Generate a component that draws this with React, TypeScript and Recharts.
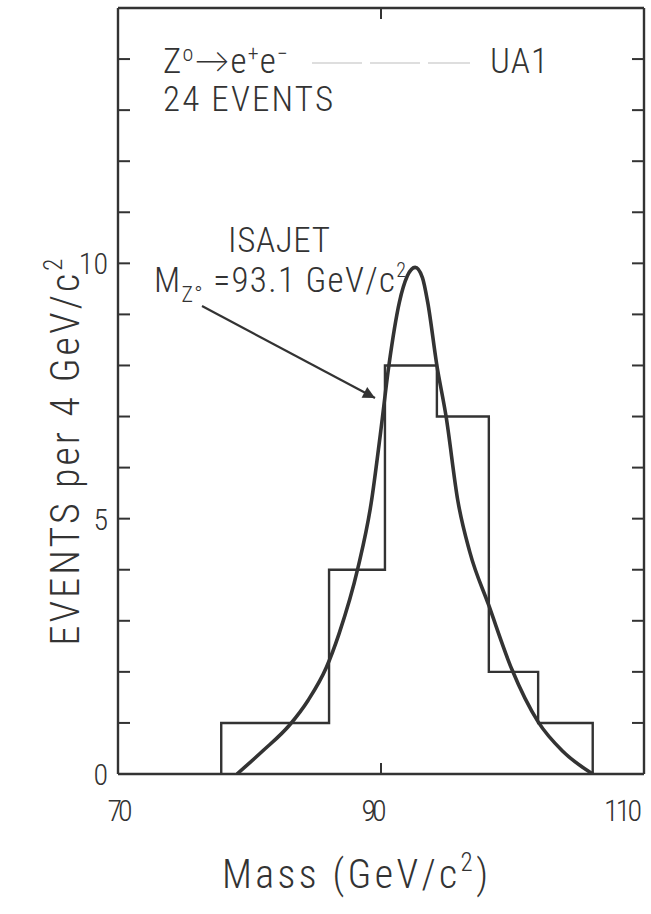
import React from "react";
import { ComposedChart, Line, XAxis, YAxis, Customized } from "recharts";

// UA1 Z0 -> e+e- mass histogram (24 events) with ISAJET expectation
const binEdges = [77.85, 81.9, 86.05, 90.3, 94.25, 98.2, 101.95, 106.1];
const binCounts = [1, 1, 4, 8, 7, 2, 1];

const isajetMass = [
  79.05, 81.0, 83.05, 84.45, 85.85, 86.8, 88.25, 89.25, 89.95, 90.6, 91.4, 92.0, 92.6,
  93.15, 93.55, 94.25, 94.95, 95.85, 96.75, 98.2, 99.95, 101.95, 103.8, 106.1,
];
const isajetEvents = [
  0, 0.45, 0.96, 1.44, 2.09, 2.74, 4.04, 5.3, 6.65, 8.0, 9.24, 9.75, 9.92,
  9.72, 9.24, 8.0, 7.0, 5.34, 4.35, 3.3, 2.05, 1.02, 0.45, 0,
];

const massTicks = [70, 90, 110];
const massTickLabels = ["70", "90", "110"];
const massInnerTicks = [90];
const eventTicks = [0, 1, 2, 3, 4, 5, 6, 7, 8, 9, 10, 11, 12, 13, 14];
const eventTickLabels = ["0", "5", "10"];

const INK = "#333";
const FONT = "'Roboto Condensed', 'Liberation Sans Narrow', 'Lato', 'DejaVu Sans', sans-serif";
const WEIGHT = 300;

const last = binEdges.length - 1;
const histogram = [
  { mass: binEdges[0], events: 0 },
  ...binCounts.map((c, i) => ({ mass: binEdges[i], events: c })),
  { mass: binEdges[last], events: binCounts[binCounts.length - 1] },
  { mass: binEdges[last], events: 0 },
];
const isajet = isajetMass.map((m, i) => ({ mass: m, events: isajetEvents[i] }));

const labelOffset: Record<string, number> = { "70": 2, "90": -7, "110": -21 };

const BottomTick = (props: any) => {
  const { x, y, payload } = props;
  const v = payload.value;
  const txt = massTickLabels[massTicks.indexOf(v)];
  return (
    <g>
      {massInnerTicks.includes(v) && (
        <line x1={x} y1={y} x2={x} y2={y - 11} stroke={INK} strokeWidth={2} />
      )}
      <text
        x={x + (labelOffset[txt] ?? 0)}
        y={y + 47}
        textAnchor="middle"
        fontSize={30}
        fontWeight={WEIGHT}
        fill={INK}
        fontFamily={FONT}
        textLength={txt.length * 13 - 1}
        lengthAdjust="spacing"
      >
        {txt}
      </text>
    </g>
  );
};

const TopTick = (props: any) => {
  const { x, y, payload } = props;
  if (!massInnerTicks.includes(payload.value)) return <g />;
  return <line x1={x} y1={y} x2={x} y2={y + 11} stroke={INK} strokeWidth={2} />;
};

const LeftTick = (props: any) => {
  const { x, y, payload } = props;
  const v = payload.value;
  const txt = eventTickLabels.find((t) => Number(t) === v);
  return (
    <g>
      {v > 0 && <line x1={x} y1={y} x2={x + 12} y2={y} stroke={INK} strokeWidth={2} />}
      {txt && (
        <text
          x={x - 10}
          y={y + 11}
          textAnchor="end"
          fontSize={30}
          fontWeight={WEIGHT}
          fill={INK}
          fontFamily={FONT}
        >
          {txt}
        </text>
      )}
    </g>
  );
};

const RightTick = (props: any) => {
  const { x, y, payload } = props;
  if (payload.value === 0) return <g />;
  return <line x1={x} y1={y} x2={x - 12} y2={y} stroke={INK} strokeWidth={2} />;
};

const Annotations = () => (
  <g fill={INK} fontFamily={FONT} fontSize={35} fontWeight={WEIGHT}>
    <defs>
      <marker id="ahead" viewBox="0 0 10 10" refX="10" refY="5" markerWidth="16" markerHeight="12" markerUnits="userSpaceOnUse" orient="auto">
        <path d="M0,0 L10,5 L0,10 z" fill={INK} />
      </marker>
    </defs>
    <text x={163} y={73} textLength={125} lengthAdjust="spacing">
      Z<tspan fontSize={22} dy={-12}>o</tspan>
      <tspan dy={12}>→e</tspan>
      <tspan fontSize={22} dy={-12}>+</tspan>
      <tspan dy={12}>e</tspan>
      <tspan fontSize={22} dy={-12}>−</tspan>
    </text>
    <line x1={312} y1={63} x2={470} y2={63} stroke="#dedede" strokeWidth={2} strokeDasharray="50 8" />
    <text x={490} y={73} textLength={58} lengthAdjust="spacing">UA1</text>
    <text x={163} y={111} textLength={170} lengthAdjust="spacing">24 EVENTS</text>
    <text x={228} y={252} textLength={102} lengthAdjust="spacing">ISAJET</text>
    <text x={154} y={292} textLength={252} lengthAdjust="spacing">
      M<tspan fontSize={22} dy={10}>Z°</tspan>
      <tspan dy={-10}> =93.1 GeV/c</tspan>
      <tspan fontSize={20} dy={-15}>2</tspan>
    </text>
    <line x1={202} y1={306} x2={375} y2={398} stroke={INK} strokeWidth={2.2} markerEnd="url(#ahead)" />
    <text
      x={79}
      y={452}
      fontSize={40}
      textAnchor="middle"
      transform="rotate(-90 79 452)"
      textLength={387}
      lengthAdjust="spacing"
    >
      EVENTS per 4 GeV/c<tspan fontSize={25} dy={-17}>2</tspan>
    </text>
    <text x={222} y={888} fontSize={40} textLength={266} lengthAdjust="spacing">
      Mass (GeV/c<tspan fontSize={25} dy={-17}>2</tspan>
      <tspan dy={17}>)</tspan>
    </text>
  </g>
);

export default function App() {
  return (
    <div style={{ background: "#fff" }}>
      <style>{"body{margin:0;background:#fff}"}</style>
      <ComposedChart width={651} height={914} margin={{ top: 7, right: 6, bottom: 139, left: 117 }}>
        <XAxis
          xAxisId="bottom"
          dataKey="mass"
          type="number"
          domain={[70, 110]}
          ticks={massTicks}
          allowDataOverflow
          height={1}
          tickSize={0}
          tickMargin={0}
          tickLine={false}
          axisLine={{ stroke: INK, strokeWidth: 2.4 }}
          tick={<BottomTick />}
          interval={0}
        />
        <XAxis
          xAxisId="top"
          orientation="top"
          dataKey="mass"
          type="number"
          domain={[70, 110]}
          ticks={massTicks}
          allowDataOverflow
          height={1}
          tickSize={0}
          tickMargin={0}
          tickLine={false}
          axisLine={{ stroke: INK, strokeWidth: 2.4 }}
          tick={<TopTick />}
          interval={0}
        />
        <YAxis
          yAxisId="left"
          type="number"
          domain={[0, 15]}
          ticks={eventTicks}
          allowDataOverflow
          width={1}
          tickSize={0}
          tickMargin={0}
          tickLine={false}
          axisLine={{ stroke: INK, strokeWidth: 2.4 }}
          tick={<LeftTick />}
          interval={0}
        />
        <YAxis
          yAxisId="right"
          orientation="right"
          type="number"
          domain={[0, 15]}
          ticks={eventTicks}
          allowDataOverflow
          width={1}
          tickSize={0}
          tickMargin={0}
          tickLine={false}
          axisLine={{ stroke: INK, strokeWidth: 2.4 }}
          tick={<RightTick />}
          interval={0}
        />
        <Line
          xAxisId="bottom"
          yAxisId="left"
          data={histogram}
          dataKey="events"
          type="stepAfter"
          stroke={INK}
          strokeWidth={2.4}
          dot={false}
          activeDot={false}
          isAnimationActive={false}
        />
        <Line
          xAxisId="top"
          yAxisId="right"
          data={isajet}
          dataKey="events"
          type="monotone"
          stroke={INK}
          strokeWidth={3.6}
          dot={false}
          activeDot={false}
          isAnimationActive={false}
        />
        <Customized component={Annotations} />
      </ComposedChart>
    </div>
  );
}
